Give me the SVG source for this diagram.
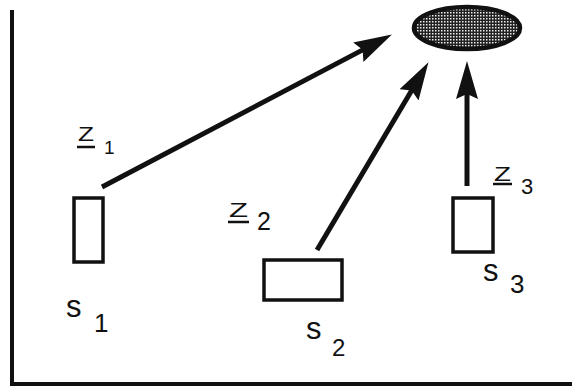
<svg xmlns="http://www.w3.org/2000/svg" width="572" height="389" viewBox="0 0 572 389">
<style>
.box{fill:none;stroke:#111;stroke-width:3.5}
.arr{stroke:#111;stroke-width:5;fill:none}
.t{font-family:"Liberation Sans",Arial,sans-serif;fill:#111}
.z{font-family:"Liberation Sans",Arial,sans-serif;fill:#111;font-size:21px}
.ul{stroke:#111;stroke-width:2.5}
</style>
<defs>
<pattern id="chk" width="3" height="3" patternUnits="userSpaceOnUse">
<rect width="3" height="3" fill="#222"/>
<rect width="1.5" height="1.5" fill="#eee"/>
</pattern>
<marker id="ah" viewBox="0 0 38 22" markerWidth="38" markerHeight="22" refX="12" refY="11" orient="auto" markerUnits="userSpaceOnUse">
<path d="M0,0 L38,11 L0,22 L5,11 z" fill="#111"/>
</marker>
</defs>
<rect width="572" height="389" fill="#fff"/>
<g id="axes">
<polyline points="12,10 12,384 572,384" fill="none" stroke="#111" stroke-width="4"/>
</g>
<g id="target">
<ellipse cx="467" cy="28" rx="53" ry="21" fill="url(#chk)" stroke="#111" stroke-width="4.5"/>
</g>
<g id="s1">
<rect class="box" x="74" y="198" width="29" height="64"/>
<text class="t" x="66" y="317" font-size="31">s</text>
<text class="t" x="94" y="332" font-size="26">1</text>
</g>
<g id="s2">
<rect class="box" x="264" y="260" width="78" height="40"/>
<text class="t" x="306" y="339" font-size="31">s</text>
<text class="t" x="332" y="356" font-size="24">2</text>
</g>
<g id="s3">
<rect class="box" x="453" y="198" width="40" height="54"/>
<text class="t" x="483" y="281" font-size="31">s</text>
<text class="t" x="510" y="293" font-size="26">3</text>
</g>
<g id="labels">
<text class="z" x="78" y="141" textLength="16" lengthAdjust="spacingAndGlyphs">Z</text>
<line class="ul" x1="77" y1="147" x2="95" y2="147"/>
<text class="t" x="104" y="154" font-size="19">1</text>
<text class="z" x="229" y="217" textLength="19" lengthAdjust="spacingAndGlyphs">Z</text>
<line class="ul" x1="228" y1="222" x2="249" y2="222"/>
<text class="t" x="257" y="230" font-size="25">2</text>
<text class="z" x="494" y="181" textLength="17" lengthAdjust="spacingAndGlyphs">Z</text>
<line class="ul" x1="493" y1="184" x2="512" y2="184"/>
<text class="t" x="521" y="194" font-size="22">3</text>
</g>
<g id="connectors">
<line class="arr" x1="102" y1="187" x2="368.9" y2="46.6" marker-end="url(#ah)"/>
<line class="arr" x1="317" y1="250" x2="415.2" y2="84.5" marker-end="url(#ah)"/>
<line class="arr" x1="467" y1="186" x2="467" y2="87" marker-end="url(#ah)"/>
</g>
</svg>
